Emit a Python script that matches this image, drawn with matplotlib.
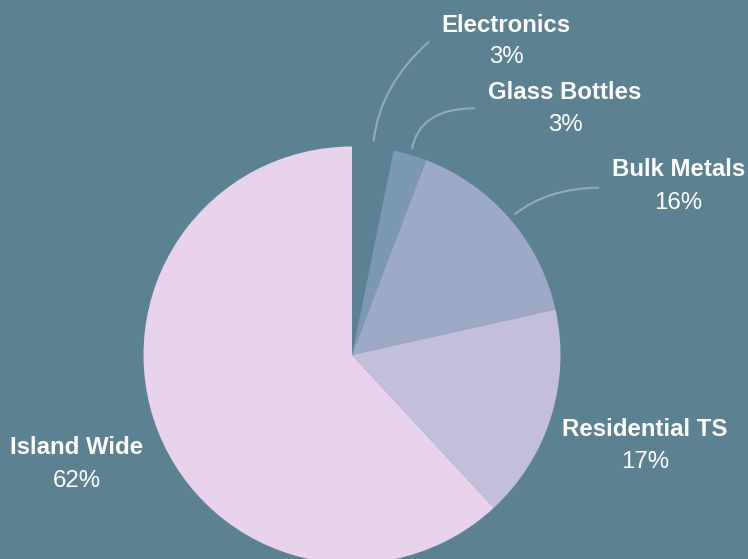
import numpy as np
import matplotlib.pyplot as plt
from matplotlib.path import Path
from matplotlib.patches import PathPatch

plt.rcParams['font.family'] = ['Liberation Sans', 'DejaVu Sans']

labels = ['Electronics', 'Glass Bottles', 'Bulk Metals', 'Residential TS', 'Island Wide']
values = [3.2, 2.6, 15.7, 16.6, 61.9]
colors = ['#5b8292', '#7b9ab1', '#9daac6', '#c3bedb', '#e8d2ec']

bg = '#5b8292'

# layout, in pixels of the 748x559 image
W, H = 748, 559
cx, cy, R = 352, 355, 208.5
label_pos = [(506, 31.5, 63.3), (565, 99.3, 130.7), (678.5, 176, 209.3),
             (645, 436, 468.3), (76.5, 454.3, 486.7)]
# leader end points and bezier control points (None = no leader)
leader_end = [(429, 41.7), (475, 108.3), (599.3, 187.7), None, None]
leader_ctrl = [(380, 85), (420, 108), (548, 188), None, None]


def to_data(px, py):
    return (px - cx) / R, (cy - py) / R


fig = plt.figure(figsize=(W / 100, H / 100), dpi=100, facecolor=bg)
ax = fig.add_axes([0, 0, 1, 1])
ax.set_facecolor(bg)

ax.pie(values, colors=colors, startangle=90, counterclock=False, radius=1,
       wedgeprops=dict(linewidth=0))
ax.set_aspect('auto')
ax.set_xlim(-cx / R, (W - cx) / R)
ax.set_ylim(-(H - cy) / R, cy / R)
ax.axis('off')

# leader lines start just outside the wedge middle
total = sum(values)
ang = 90.0
for i, v in enumerate(values):
    sweep = v / total * 360
    mid = np.radians(ang - sweep / 2)
    ang -= sweep
    if leader_end[i] is not None:
        p0 = (1.03 * np.cos(mid), 1.03 * np.sin(mid))
        p1 = to_data(*leader_ctrl[i])
        p2 = to_data(*leader_end[i])
        path = Path([p0, p1, p2], [Path.MOVETO, Path.CURVE3, Path.CURVE3])
        ax.add_patch(PathPatch(path, fill=False, edgecolor='#8eadb8', lw=1.5))

    x, y1 = to_data(label_pos[i][0], label_pos[i][1])
    _, y2 = to_data(label_pos[i][0], label_pos[i][2])
    ax.text(x, y1, labels[i], ha='center', va='baseline', fontsize=17.3,
            fontweight='bold', color='white')
    ax.text(x, y2, f'{round(v)}%', ha='center', va='baseline', fontsize=17.3,
            color='white')

fig.savefig('out.png', dpi=100, facecolor=bg)
